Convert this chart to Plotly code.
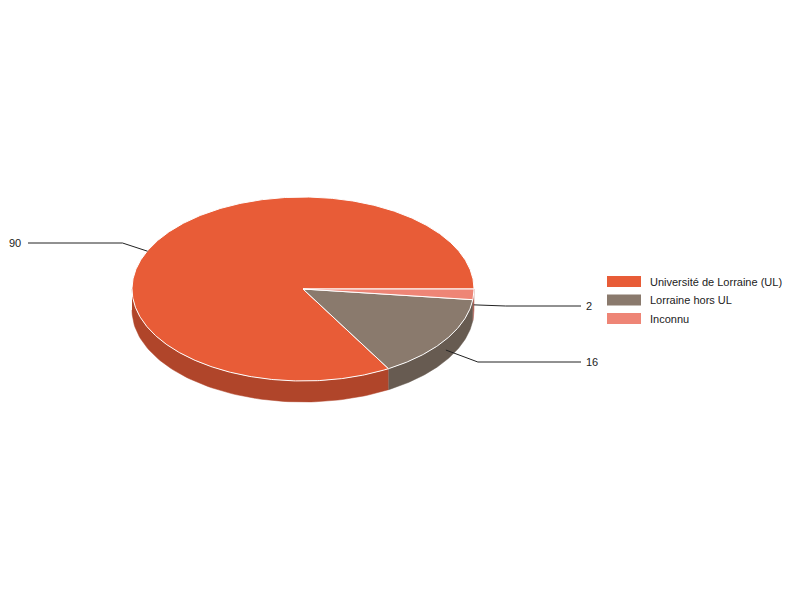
"""
Camembert 3D (façon Google Charts) : répartition par origine.
"""
import numpy as np
import plotly.graph_objects as go

# Données
labels = ["Université de Lorraine (UL)", "Lorraine hors UL", "Inconnu"]
values = [90, 16, 2]

# Couleurs (face du dessus / tranche)
top_colors = ["#e85c37", "#8a7a6d", "#ee8576"]
side_colors = ["#b0452a", "#675b51", "#b3645a"]

# Géométrie du camembert (en pixels de la page)
CX, CY, RX, RY, DEPTH = 303, 289, 171, 92, 21
LABEL_Y = [243, 362, 306]      # position verticale des étiquettes de valeur
FONT = "Arial, Liberation Sans, sans-serif"
OFF = 8                         # marge par défaut du <body>


def pt(theta_deg, dy=0.0, r=1.0):
    t = np.radians(theta_deg)
    return CX + r * RX * np.cos(t), CY - r * RY * np.sin(t) + dy


total = float(sum(values))
ends = 360 * np.cumsum(values) / total
starts = np.concatenate([[0], ends[:-1]])

fig = go.Figure()

# Tranches (partie avant visible uniquement : angles 180..360)
for a, b, col in zip(starts, ends, side_colors):
    lo, hi = max(a, 180), min(b, 360)
    if lo >= hi:
        continue
    th = np.linspace(lo, hi, 80)
    xt, yt = pt(th)
    xb, yb = pt(th[::-1], DEPTH)
    fig.add_trace(go.Scatter(
        x=np.concatenate([xt, xb]), y=np.concatenate([yt, yb]),
        fill="toself", fillcolor=col, mode="lines",
        line=dict(color=col, width=0.5), hoverinfo="skip", showlegend=False
    ))

# Faces du dessus
for a, b, col, lab, v in zip(starts, ends, top_colors, labels, values):
    th = np.linspace(a, b, max(4, int((b - a) * 2)))
    xs, ys = pt(th)
    fig.add_trace(go.Scatter(
        x=np.concatenate([[CX], xs, [CX]]), y=np.concatenate([[CY], ys, [CY]]),
        fill="toself", fillcolor=col, mode="lines",
        line=dict(color="white", width=1),
        name=lab, text=f"{lab}<br>{v}", hoverinfo="text", hoveron="fills",
        showlegend=False
    ))

# Étiquettes de valeur avec traits de rappel
annotations = []
for a, b, v, ly in zip(starts, ends, values, LABEL_Y):
    mid = (a + b) / 2
    front = np.sin(np.radians(mid)) < 0
    ax, ay = pt(mid, DEPTH / 2, 1.0 if front else 1.05)
    right = ax > CX
    ex = ax + 32 if right else ax - 25
    tx = 581 if right else 28
    fig.add_trace(go.Scatter(
        x=[ax, ex, tx], y=[ay, ly, ly], mode="lines",
        line=dict(color="#222222", width=1), hoverinfo="skip", showlegend=False
    ))
    annotations.append(dict(
        x=tx + 3 if right else tx - 5, y=ly, xref="x", yref="y",
        text=str(v), showarrow=False,
        xanchor="left" if right else "right", yanchor="middle",
        font=dict(family=FONT, size=11, color="#222222")
    ))

# Légende manuelle (pavés larges comme Google Charts)
shapes = []
for i, (lab, col) in enumerate(zip(labels, top_colors)):
    yc = 281.5 + i * 18.5
    shapes.append(dict(type="rect", xref="x", yref="y",
                       x0=607, x1=641, y0=yc - 5.5, y1=yc + 5.5,
                       fillcolor=col, line=dict(width=0)))
    annotations.append(dict(
        x=648, y=yc, xref="x", yref="y", text=lab, showarrow=False,
        xanchor="left", yanchor="middle",
        font=dict(family=FONT, size=11, color="#222222")
    ))

fig.update_layout(
    width=800, height=600,
    margin=dict(l=0, r=0, t=0, b=0),
    paper_bgcolor="white", plot_bgcolor="white",
    xaxis=dict(range=[OFF, 800 + OFF], visible=False, fixedrange=True),
    yaxis=dict(range=[600 + OFF, OFF], visible=False, fixedrange=True),
    shapes=shapes, annotations=annotations,
    showlegend=False,
    font=dict(family=FONT, size=11)
)

fig.write_html("out.html")
